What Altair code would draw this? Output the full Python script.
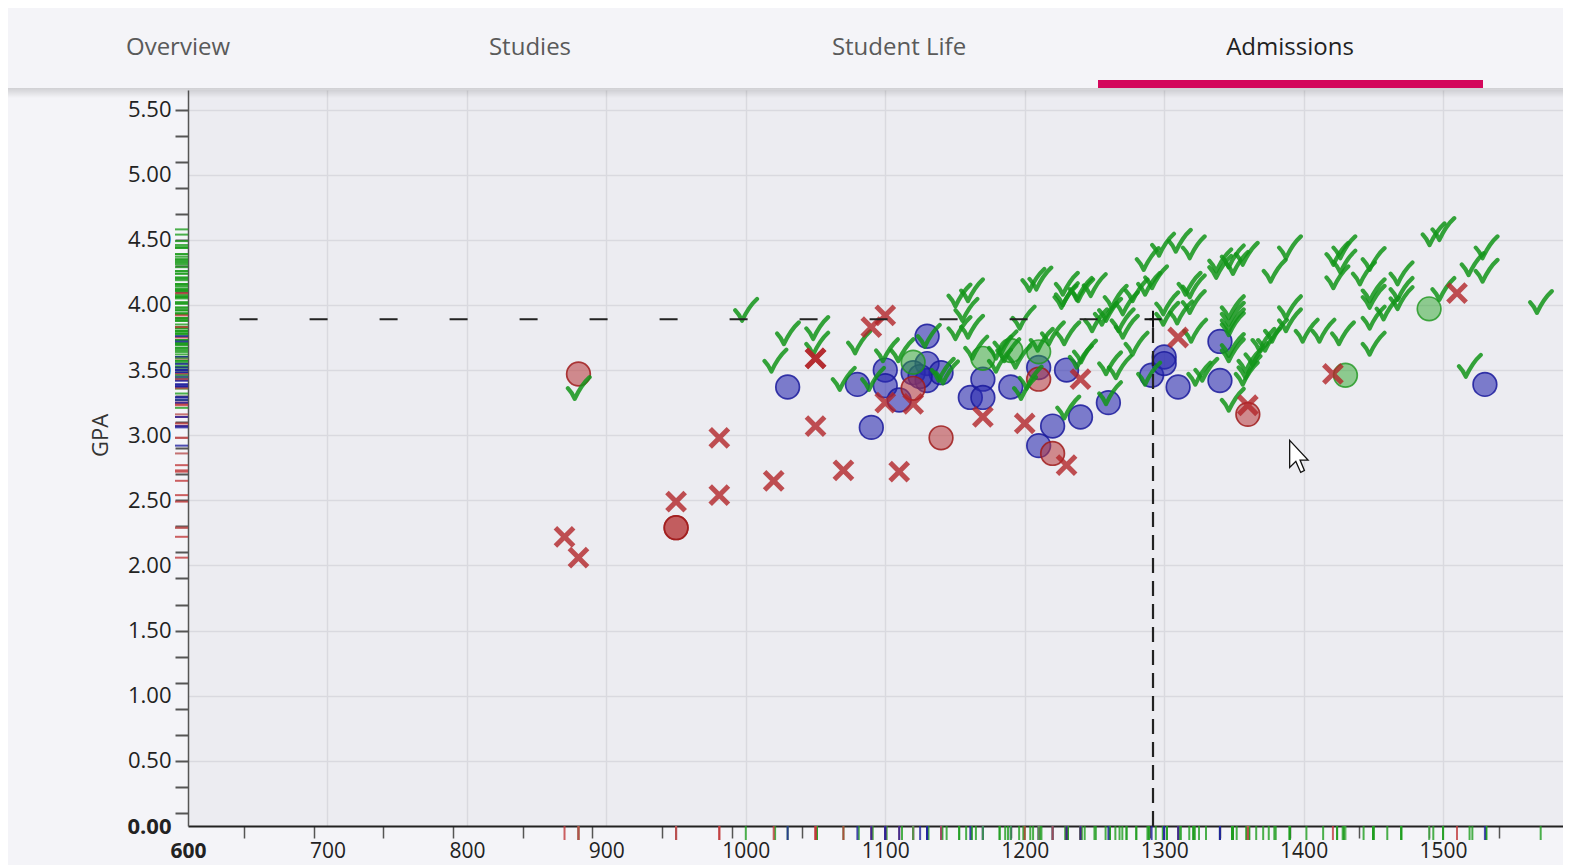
import altair as alt
import pandas as pd

# ---------------- header tabs ----------------
tabs = ["Overview", "Studies", "Student Life", "Admissions"]
active_tab = "Admissions"
tab_centers = [-10, 342, 711, 1102]          # layout (px from plot left)

# ---------------- data (SAT, GPA) ----------------
acc_sat = [1000, 880, 1030, 1021, 1051, 1051, 1081, 1070, 1101, 1112, 1091, 1141, 1131,
           1153, 1162, 1158, 1153, 1162, 1165, 1144, 1182, 1182, 1199, 1212, 1220, 1231,
           1230, 1241, 1243, 1231, 1258, 1261, 1200, 1206, 1188, 1211, 1230, 1240, 1250,
           1229, 1186, 1240, 1204, 1251, 1261, 1265, 1273, 1270, 1273, 1280, 1289, 1268,
           1261, 1280, 1288, 1299, 1311, 1321, 1302, 1302, 1312, 1321, 1321, 1322, 1289,
           1340, 1349, 1359, 1349, 1349, 1349, 1330, 1349, 1361, 1390, 1379, 1390, 1390,
           1380, 1402, 1414, 1371, 1361, 1359, 1349, 1325, 1424, 1424, 1428, 1429, 1429,
           1450, 1443, 1450, 1450, 1470, 1470, 1470, 1460, 1450, 1450, 1493, 1500, 1531,
           1521, 1531, 1500, 1519, 1570, 1349, 1349, 1340, 1352, 1366, 1375, 1294, 1318,
           1196]
acc_gpa = [3.96, 3.36, 3.78, 3.57, 3.82, 3.70, 3.71, 3.43, 3.65, 3.65, 3.43, 3.50, 3.76,
           4.07, 4.11, 3.96, 3.82, 3.83, 3.67, 3.48, 3.57, 3.67, 3.90, 3.73, 3.78, 3.78,
           4.08, 4.11, 3.64, 3.21, 3.93, 3.55, 3.36, 4.19, 3.65, 4.20, 4.16, 4.12, 4.15,
           4.06, 3.71, 3.60, 3.44, 3.88, 3.96, 4.06, 4.01, 3.88, 3.83, 4.11, 4.16, 3.52,
           3.32, 3.70, 4.35, 4.46, 4.49, 4.44, 4.01, 3.93, 3.94, 4.14, 4.02, 3.80, 3.47,
           4.34, 4.37, 4.39, 3.98, 3.88, 3.69, 3.50, 3.27, 3.52, 4.44, 4.26, 3.98, 3.88,
           3.80, 3.80, 3.80, 3.73, 3.57, 3.47, 3.65, 3.47, 4.39, 4.21, 3.78, 4.44, 4.33,
           4.35, 4.24, 4.11, 4.06, 4.24, 4.12, 4.05, 3.97, 3.90, 3.70, 4.54, 4.58, 4.44,
           4.31, 4.26, 4.12, 3.53, 4.02, 3.93, 3.85, 4.29, 4.32, 3.62, 3.73, 4.21, 4.16,
           3.60]

rej_sat = [870, 880, 950, 981, 981, 1020, 1050, 1050, 1050, 1070, 1090, 1100, 1100, 1110,
           1120, 1170, 1200, 1240, 1230, 1310, 1360, 1510, 1421]
rej_gpa = [2.22, 2.06, 2.49, 2.98, 2.54, 2.65, 3.59, 3.59, 3.07, 2.73, 3.83, 3.92, 3.25,
           2.72, 3.24, 3.14, 3.09, 3.43, 2.77, 3.75, 3.23, 4.09, 3.47]

wait_sat = [1030, 1080, 1090, 1100, 1100, 1110, 1130, 1130, 1120, 1130, 1140, 1125, 1161,
            1170, 1170, 1190, 1210, 1230, 1220, 1240, 1210, 1260, 1291, 1300, 1300, 1310,
            1340, 1340, 1530]
wait_gpa = [3.37, 3.39, 3.06, 3.50, 3.38, 3.27, 3.76, 3.55, 3.48, 3.42, 3.48, 3.45, 3.29,
            3.43, 3.29, 3.37, 3.52, 3.50, 3.07, 3.14, 2.92, 3.25, 3.46, 3.60, 3.55, 3.37,
            3.72, 3.42, 3.39]

wrej_sat = [880, 950, 950, 1120, 1140, 1210, 1220, 1360]
wrej_gpa = [3.47, 2.29, 2.29, 3.36, 2.98, 3.43, 2.86, 3.16]

wacc_sat = [1120, 1170, 1190, 1210, 1490, 1430]
wacc_gpa = [3.56, 3.59, 3.65, 3.64, 3.97, 3.46]

# crosshair at the selected applicant
cross_sat = [1292]
cross_gpa = [3.89]
hline_from = [637]

# mouse pointer
cursor_sat = [1390]
cursor_gpa = [2.96]

# ---------------- frames ----------------
def frame(sats, gpas, status):
    return pd.DataFrame({"sat": sats, "gpa": gpas, "status": status})

acc = frame(acc_sat, acc_gpa, "Accepted")
rej = frame(rej_sat, rej_gpa, "Rejected")
wai = frame(wait_sat, wait_gpa, "Waitlisted")
wre = frame(wrej_sat, wrej_gpa, "Waitlisted, rejected")
wac = frame(wacc_sat, wacc_gpa, "Waitlisted, accepted")
allpts = pd.concat([acc, rej, wai, wre, wac], ignore_index=True)

status_dom = ["Accepted", "Rejected", "Waitlisted", "Waitlisted, rejected", "Waitlisted, accepted"]
rug_cols = ["#1f9e1f", "#c0393b", "#22229f", "#b85050", "#44aa44"]

W, H = 1375, 736
xs = alt.Scale(domain=[600, 1586], nice=False, zero=False)
ys = alt.Scale(domain=[0, 5.65], nice=False, zero=True)

xaxis = alt.Axis(
    values=list(range(600, 1590, 10)),
    labelExpr="datum.value % 100 == 0 ? format(datum.value, 'd') : ''",
    labelOverlap=False, labelFlush=False,
    tickSize=12, tickWidth=1.5, tickColor="#555",
    tickOpacity={"condition": {"test": "(datum.value - 640) % 50 == 0", "value": 1}, "value": 0},
    grid=True, gridColor="#d9d9df", gridWidth=1.5,
    gridOpacity={"condition": {"test": "datum.value % 100 == 0 && datum.value > 600", "value": 1}, "value": 0},
    domainColor="#222", domainWidth=2,
    labelFont="Open Sans", labelFontSize=21, labelPadding=2, labelColor="#222",
    labelFontWeight={"condition": {"test": "datum.value == 600", "value": "bold"}, "value": "normal"},
    title=None,
)
yaxis = alt.Axis(
    values=[round(i * 0.1, 1) for i in range(0, 57)],
    labelExpr="round(datum.value*10) % 5 == 0 ? format(datum.value, '.2f') : ''",
    labelOverlap=False, labelFlush=False,
    tickSize=13, tickWidth=2, tickColor="#555",
    tickOpacity={"condition": {"test": "round(datum.value*10) % 2 == 1", "value": 1}, "value": 0},
    grid=True, gridColor="#d9d9df", gridWidth=1.5,
    gridOpacity={"condition": {"test": "round(datum.value*10) % 5 == 0 && datum.value > 0", "value": 1}, "value": 0},
    domainColor="#555", domainWidth=1.5,
    labelFont="Open Sans", labelFontSize=22, labelPadding=4, labelColor="#222",
    labelFontWeight={"condition": {"test": "datum.value == 0", "value": "bold"}, "value": "normal"},
    title="GPA", titleFont="Open Sans", titleFontSize=22, titleFontWeight="normal", titleColor="#333",
    titleX=-88, titleY=345, titleAlign="center", titleBaseline="middle",
)
X = alt.X("sat:Q", scale=xs, axis=xaxis)
Y = alt.Y("gpa:Q", scale=ys, axis=yaxis)

rug_color = alt.Color("status:N", scale=alt.Scale(domain=status_dom, range=rug_cols), legend=None)

rug_left = alt.Chart(allpts).mark_tick(orient="horizontal", size=13, thickness=2, opacity=0.8).encode(
    y=Y, x=alt.value(-6.5), color=rug_color)
rug_bottom = alt.Chart(allpts).mark_tick(orient="vertical", size=14, thickness=2, opacity=0.8).encode(
    x=X, y=alt.value(H + 7), color=rug_color)

CHECK = "M-0.85,0.0 C-0.65,0.2 -0.45,0.5 -0.3,0.85 C0.0,0.2 0.4,-0.45 0.9,-0.9"
XSHAPE = "M-0.8,-0.8L0.8,0.8M-0.8,0.8L0.8,-0.8"
PLUS = "M-1,0L1,0M0,-1L0,1"
POINTER = "M0,0L0,1.69L0.385,1.31L0.69,2L0.92,1.88L0.65,1.23L1.15,1.23Z"

CIRCLE_SIZE = 560
blue = alt.Chart(wai).mark_circle(size=CIRCLE_SIZE, fill="#2a2ab0", fillOpacity=0.58, stroke="#1a1a9c",
                                  strokeWidth=1.7, strokeOpacity=0.85, opacity=1).encode(x=X, y=Y)
green_c = alt.Chart(wac).mark_circle(size=CIRCLE_SIZE, fill="#2ea82e", fillOpacity=0.5, stroke="#1e961e",
                                     strokeWidth=1.7, strokeOpacity=0.8, opacity=1).encode(x=X, y=Y)
red_c = alt.Chart(wre).mark_circle(size=CIRCLE_SIZE, fill="#b8383a", fillOpacity=0.55, stroke="#a01c1c",
                                   strokeWidth=1.7, strokeOpacity=0.85, opacity=1).encode(x=X, y=Y)
checks = alt.Chart(acc).mark_point(shape=CHECK, size=620, filled=False, strokeWidth=4.2,
                                   color="#13961a", opacity=0.85, strokeCap="round",
                                   strokeJoin="round").encode(x=X, y=Y)
crosses = alt.Chart(rej).mark_point(shape=XSHAPE, size=520, filled=False, strokeWidth=5,
                                    color="#b3262a", opacity=0.8).encode(x=X, y=Y)

hline_df = pd.DataFrame({"sat": hline_from, "sat2": cross_sat, "gpa": cross_gpa})
vline_df = pd.DataFrame({"sat": cross_sat, "gpa": [0], "gpa2": cross_gpa})
cross_df = pd.DataFrame({"sat": cross_sat, "gpa": cross_gpa})
cursor_df = pd.DataFrame({"sat": cursor_sat, "gpa": cursor_gpa})

hline = alt.Chart(hline_df).mark_rule(color="#222", strokeWidth=2, strokeDash=[18, 52]).encode(
    x=X, x2="sat2:Q", y=Y)
vline = alt.Chart(vline_df).mark_rule(color="#222", strokeWidth=2.2, strokeDash=[15, 8]).encode(
    x=X, y=Y, y2="gpa2:Q")
plus = alt.Chart(cross_df).mark_point(shape=PLUS, size=289, filled=False, strokeWidth=2,
                                      color="#111", opacity=1).encode(x=X, y=Y)
cursor = alt.Chart(cursor_df).mark_point(shape=POINTER, size=1024, filled=True, fill="white",
                                         stroke="#111", strokeWidth=1.3, opacity=1).encode(x=X, y=Y)

# ---------------- header ----------------
one = pd.DataFrame({"k": [0]})
shadow = alt.Chart(one).mark_rect(
    fill=alt.Gradient(gradient="linear",
                      stops=[alt.GradientStop(color="rgba(0,0,0,0.15)", offset=0),
                             alt.GradientStop(color="rgba(0,0,0,0)", offset=1)],
                      x1=0, x2=0, y1=0, y2=1)
).encode(x=alt.value(-180), x2=alt.value(W), y=alt.value(-2), y2=alt.value(8))
pink = alt.Chart(one).mark_rect(color="#d4085c").encode(
    x=alt.value(910), x2=alt.value(1295), y=alt.value(-10), y2=alt.value(-2))

tab_layers = []
for name, cx in zip(tabs, tab_centers):
    tab_layers.append(
        alt.Chart(pd.DataFrame({"tab": [name]})).mark_text(
            font="Open Sans", fontSize=24, align="center", baseline="middle",
            color="#222" if name == active_tab else "#5a5a5a"
        ).encode(x=alt.value(cx), y=alt.value(-42), text="tab:N")
    )

chart = alt.layer(
    rug_left, rug_bottom, blue, green_c, red_c, checks, crosses,
    hline, vline, plus, cursor, shadow, pink, *tab_layers
).properties(
    width=W, height=H,
    autosize=alt.AutoSizeParams(type="none"),
    padding={"left": 180, "top": 82, "right": 0, "bottom": 40},
    background="#f4f4f8",
).configure_view(fill="#ececf1", stroke=None)

chart.save("out.html", embed_options={"renderer": "svg", "actions": False})
